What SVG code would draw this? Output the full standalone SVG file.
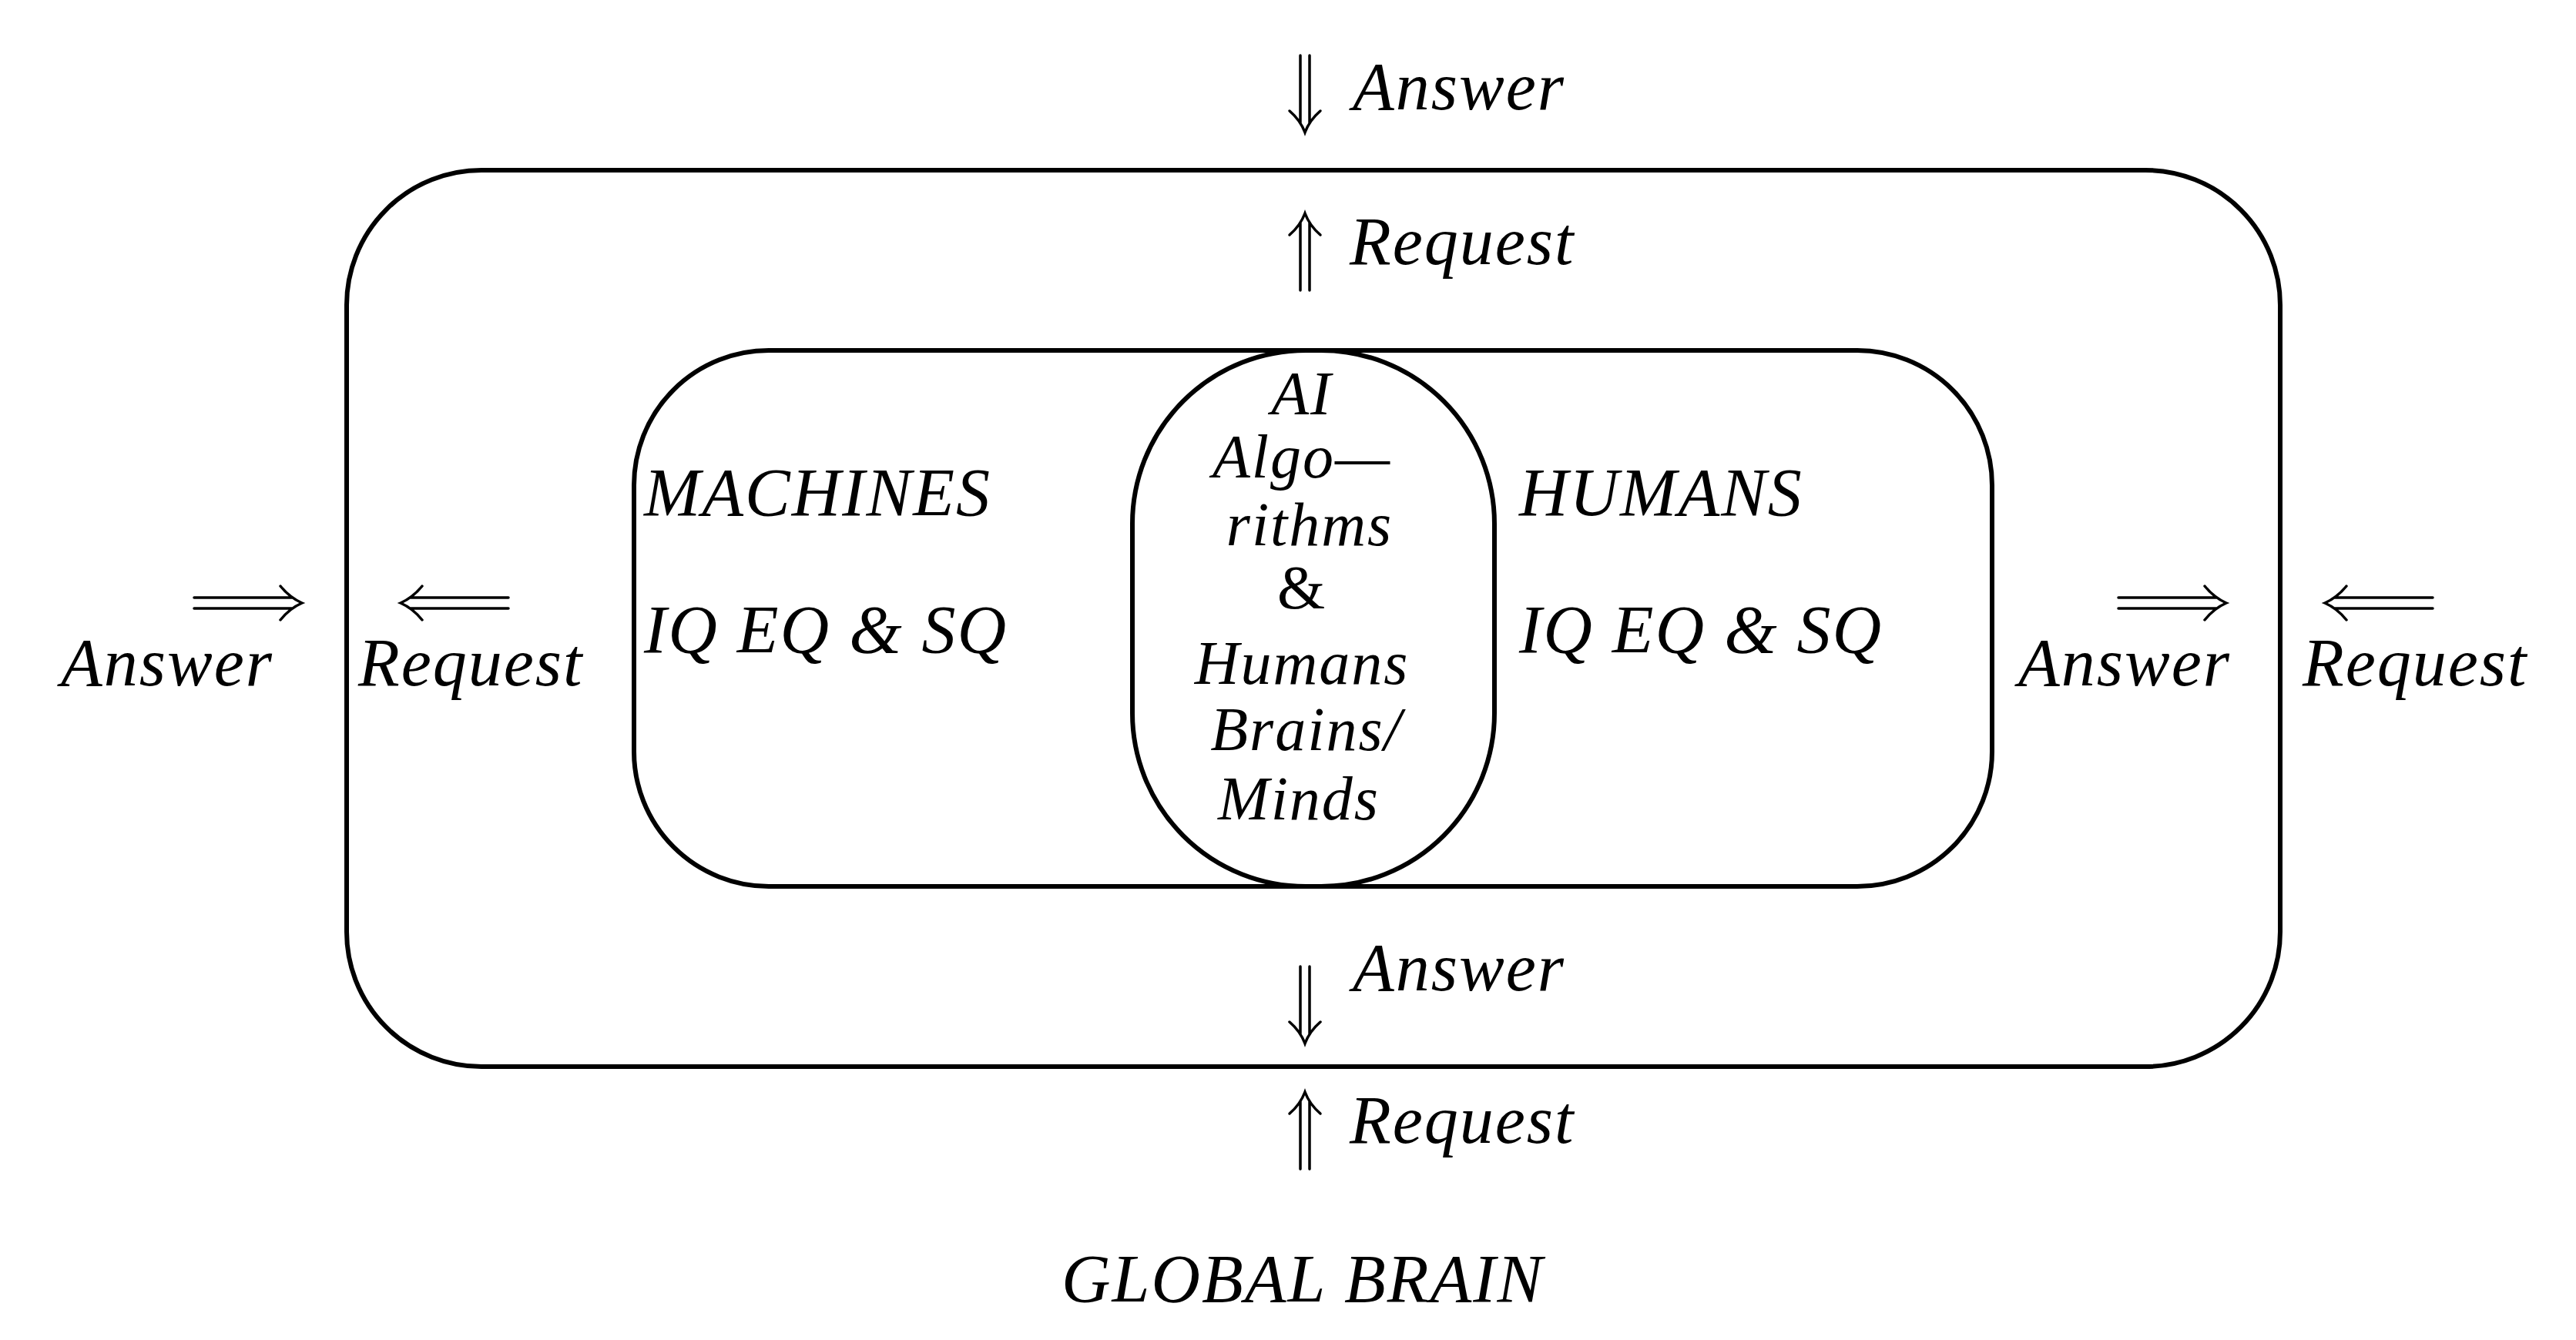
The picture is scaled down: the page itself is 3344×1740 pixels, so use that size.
<svg xmlns="http://www.w3.org/2000/svg" width="3344" height="1740" viewBox="0 0 3344 1740">
<style>
.b{fill:none;stroke:#000;stroke-width:6}
.a{fill:none;stroke:#000;stroke-width:3.5;stroke-linecap:round}
text{font-family:"Liberation Serif",serif;font-style:italic;font-size:88px;letter-spacing:2px;fill:#000}
.c{text-anchor:middle;font-size:80px}
</style>
<defs>
<g id="dn"><path class="a" d="M-6,-50 V38 M6,-50 V38 M-20,22 Q-6,34 0,50 Q6,34 20,22"/></g>
<g id="up"><path class="a" d="M-6,50 V-38 M6,50 V-38 M-20,-22 Q-6,-34 0,-50 Q6,-34 20,-22"/></g>
<g id="rt"><path class="a" d="M-70,-7 H58 M-70,7 H58 M42,-22 Q54,-7 70,0 Q54,7 42,22"/></g>
<g id="lt"><path class="a" d="M70,-7 H-58 M70,7 H-58 M-42,-22 Q-54,-7 -70,0 Q-54,7 -42,22"/></g>
</defs>
<g id="outer"><rect class="b" x="450" y="221" width="2510" height="1164" rx="175" ry="175" transform="translate(0,0)"/></g>
<g id="inner"><rect class="b" x="823" y="455" width="1763" height="696" rx="175" ry="175"/>
<text x="836" y="669">MACHINES</text><text x="836" y="847">IQ EQ &amp; SQ</text>
<text x="1972" y="669">HUMANS</text><text x="1972" y="847">IQ EQ &amp; SQ</text></g>
<g id="center"><rect class="b" x="1470" y="455" width="470" height="696" rx="225" ry="225" fill="#fff"/>
<text class="c" x="1690" y="538">AI</text><text class="c" x="1690" y="620">Algo—</text><text class="c" x="1700" y="708">rithms</text><text class="c" x="1690" y="790" style="font-style:normal">&amp;</text><text class="c" x="1690" y="888">Humans</text><text class="c" x="1696" y="974">Brains/</text><text class="c" x="1686" y="1064">Minds</text></g>
<g id="connectors">
<use href="#dn" x="1694" y="122"/><text x="1756" y="142">Answer</text>
<use href="#up" x="1694" y="327"/><text x="1752" y="343">Request</text>
<use href="#dn" x="1694" y="1305"/><text x="1756" y="1286">Answer</text>
<use href="#up" x="1694" y="1468"/><text x="1752" y="1484">Request</text>
<use href="#rt" x="322" y="783"/><text x="79" y="890">Answer</text>
<use href="#lt" x="590" y="783"/><text x="465" y="890">Request</text>
<use href="#rt" x="2820" y="783"/><text x="2620" y="890">Answer</text>
<use href="#lt" x="3088" y="783"/><text x="2989" y="890">Request</text>
</g>
<g id="title"><text x="1378" y="1690">GLOBAL BRAIN</text></g>
</svg>
